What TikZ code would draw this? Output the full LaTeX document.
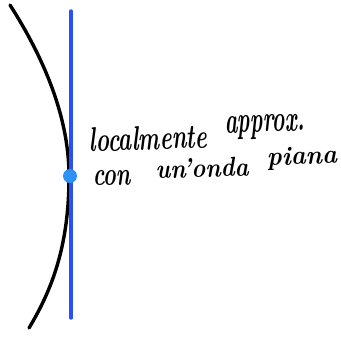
\documentclass[tikz,border=0pt]{standalone}
\usepackage{graphicx}
\definecolor{wblue}{RGB}{40,80,245}
\definecolor{dblue}{RGB}{45,145,245}
\tikzset{
  front/.style={line width=3.4pt, black, line cap=round},
  plane/.style={line width=3.4pt, wblue, line cap=round},
  pt/.style={circle, fill=dblue, inner sep=0pt, minimum size=14pt},
  note/.style={inner sep=0pt, rotate=2, font=\bfseries\itshape}
}
\begin{document}
\begin{tikzpicture}[x=1pt,y=-1pt]
\useasboundingbox (0,0) rectangle (341,338);
\coordinate (top) at (10,5);
\coordinate (bot) at (29,328);
\coordinate (p1) at (71,11);
\coordinate (p2) at (71,318);
\draw[front] (top) .. controls (42,55) and (69,115) .. (69,176) .. controls (69,240) and (55,285) .. (bot);
\draw[plane] (p1) -- (p2);
\node[pt] (P) at (70,176) {};
\node[note] (w1) at (148,138) {\resizebox*{118pt}{24pt}{localmente}};
\node[note] (w2) at (265,127) {\resizebox*{80pt}{24pt}{approx.}};
\node[note] (w3) at (112,178) {\resizebox*{38pt}{15pt}{con}};
\node[note] (w4) at (202,168) {\resizebox*{93pt}{19pt}{un'onda}};
\node[note] (w5) at (302,158) {\resizebox*{70pt}{23pt}{piana}};
\end{tikzpicture}
\end{document}
